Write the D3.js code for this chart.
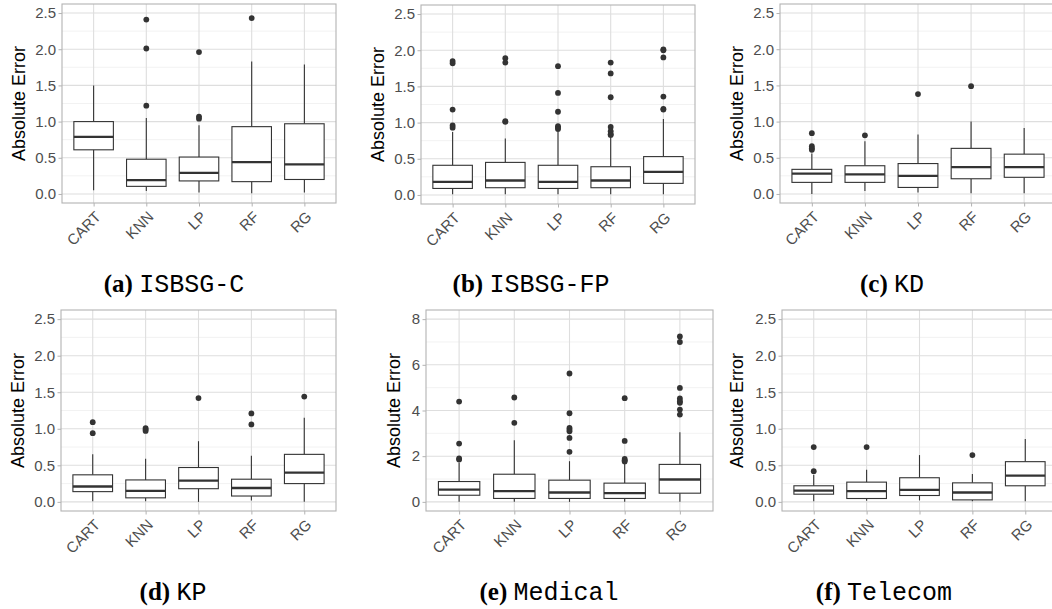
<!DOCTYPE html>
<html><head><meta charset="utf-8">
<script src="https://cdn.jsdelivr.net/npm/d3@7"></script>
<style>
body{margin:0;background:#fff;}
svg{display:block;}
</style></head>
<body><svg id="chart" width="1052" height="609"></svg>
<script>
// ---------- DATA ----------
const categories = ["CART","KNN","LP","RF","RG"];
const ticks25 = [0, 0.5, 1.0, 1.5, 2.0, 2.5];
const ticks8 = [0, 2, 4, 6, 8];

// five-number summaries per method: [lowerWhisker, q1, median, q3, upperWhisker]
const isbsgC_stats = [[0.05,0.61,0.79,1.00,1.50],[0.04,0.105,0.19,0.48,1.05],[0.02,0.18,0.29,0.51,0.95],[0.01,0.17,0.44,0.93,1.83],[0.02,0.20,0.41,0.97,1.79]];
const isbsgC_outliers = [[],[2.41,2.01,1.22],[1.96,1.07,1.04],[2.43],[]];

const isbsgFP_stats = [[0.01,0.09,0.18,0.41,0.87],[0.01,0.10,0.20,0.45,0.78],[0.01,0.09,0.18,0.41,0.87],[0.01,0.10,0.20,0.39,0.80],[0.01,0.16,0.32,0.53,1.05]];
const isbsgFP_outliers = [[1.85,1.82,1.18,0.96,0.93],[1.89,1.83,1.02,1.01],[1.78,1.41,1.15,0.95,0.93,0.91],[1.83,1.68,1.35,0.94,0.88,0.84,0.83],[2.01,2.00,1.90,1.36,1.19,1.18]];

const kd_stats = [[0.00,0.16,0.28,0.34,0.56],[0.04,0.16,0.27,0.39,0.73],[0.02,0.09,0.25,0.42,0.82],[0.01,0.21,0.37,0.63,1.00],[0.01,0.23,0.37,0.55,0.91]];
const kd_outliers = [[0.84,0.66,0.63,0.61],[0.81],[1.38],[1.49],[]];

const kp_stats = [[0.01,0.14,0.21,0.37,0.65],[0.01,0.055,0.15,0.30,0.59],[0.00,0.18,0.29,0.47,0.83],[0.02,0.08,0.19,0.31,0.63],[0.00,0.25,0.40,0.65,1.15]];
const kp_outliers = [[1.09,0.94],[1.01,0.99,0.97],[1.42],[1.21,1.06],[1.44]];

const medical_stats = [[0.00,0.29,0.54,0.89,1.71],[0.00,0.15,0.47,1.21,2.70],[0.00,0.15,0.41,0.95,1.78],[0.00,0.15,0.38,0.82,1.66],[0.00,0.38,0.98,1.64,3.05]];
const medical_outliers = [[4.39,2.55,1.90,1.85],[4.57,3.46],[5.62,3.88,3.24,3.17,3.09,2.80,2.19],[4.54,2.67,1.88,1.82,1.77],[7.24,7.00,4.99,4.53,4.41,4.34,4.04,3.82]];

const telecom_stats = [[0.01,0.105,0.155,0.22,0.37],[0.014,0.046,0.146,0.27,0.44],[0.02,0.087,0.164,0.33,0.64],[0.01,0.027,0.128,0.26,0.38],[0.01,0.22,0.36,0.55,0.86]];
const telecom_outliers = [[0.75,0.42],[0.75],[],[0.64],[]];

const captionLetters = ["(a)","(b)","(c)","(d)","(e)","(f)"];
const captionNames = ["ISBSG-C","ISBSG-FP","KD","KP","Medical","Telecom"];

// ---------- LAYOUT ----------
const panels = [
  {stats:isbsgC_stats, out:isbsgC_outliers, ticks:ticks25, max:2.5, fmt:d3.format(".1f"), l:62, t:4, r:336, b:203, titleX:19, capX:174, capY:292},
  {stats:isbsgFP_stats, out:isbsgFP_outliers, ticks:ticks25, max:2.5, fmt:d3.format(".1f"), l:421, t:5, r:695, b:204, titleX:378, capX:531, capY:292},
  {stats:kd_stats, out:kd_outliers, ticks:ticks25, max:2.5, fmt:d3.format(".1f"), l:780, t:4, r:1056, b:203, titleX:737, capX:892, capY:292},
  {stats:kp_stats, out:kp_outliers, ticks:ticks25, max:2.5, fmt:d3.format(".1f"), l:61, t:310, r:336, b:511, titleX:18, capX:173, capY:600},
  {stats:medical_stats, out:medical_outliers, ticks:ticks8, max:8, fmt:d3.format("d"), l:426, t:310, r:713, b:511, titleX:394, capX:549, capY:600},
  {stats:telecom_stats, out:telecom_outliers, ticks:ticks25, max:2.5, fmt:d3.format(".1f"), l:782, t:310, r:1057, b:511, titleX:737, capX:884, capY:600}
];

const svg = d3.select("#chart");
const dark = "#333333";
const sans = "'Liberation Sans', Arial, Helvetica, sans-serif";

panels.forEach((p, pi) => {
  const ex = p.max * 0.05;
  const y = d3.scaleLinear().domain([-ex, p.max + ex]).range([p.b, p.t]);
  const x = d3.scalePoint().domain(categories).range([p.l, p.r]).padding(0.6);
  const step = x.step();
  const bw = step * 0.75;
  const g = svg.append("g");

  g.append("rect").attr("x", p.l).attr("y", p.t).attr("width", p.r - p.l).attr("height", p.b - p.t).attr("fill", "#fff");

  const minor = d3.pairs(p.ticks).map(d => (d[0] + d[1]) / 2);
  g.selectAll(".minor").data(minor).join("line")
    .attr("x1", p.l).attr("x2", p.r).attr("y1", d => y(d)).attr("y2", d => y(d))
    .attr("stroke", "#efefef").attr("stroke-width", 0.8);
  g.selectAll(".majorY").data(p.ticks).join("line")
    .attr("x1", p.l).attr("x2", p.r).attr("y1", d => y(d)).attr("y2", d => y(d))
    .attr("stroke", "#dedede").attr("stroke-width", 1.1);
  g.selectAll(".majorX").data(categories).join("line")
    .attr("x1", d => x(d)).attr("x2", d => x(d)).attr("y1", p.t).attr("y2", p.b)
    .attr("stroke", "#dedede").attr("stroke-width", 1.1);

  categories.forEach((c, i) => {
    const s = p.stats[i];
    const cx = x(c);
    g.append("line").attr("x1", cx).attr("x2", cx).attr("y1", y(s[4])).attr("y2", y(s[3])).attr("stroke", dark).attr("stroke-width", 1.1);
    g.append("line").attr("x1", cx).attr("x2", cx).attr("y1", y(s[1])).attr("y2", y(s[0])).attr("stroke", dark).attr("stroke-width", 1.1);
    g.append("rect").attr("x", cx - bw / 2).attr("y", y(s[3])).attr("width", bw).attr("height", y(s[1]) - y(s[3]))
      .attr("fill", "#fff").attr("stroke", dark).attr("stroke-width", 1.1);
    g.append("line").attr("x1", cx - bw / 2).attr("x2", cx + bw / 2).attr("y1", y(s[2])).attr("y2", y(s[2]))
      .attr("stroke", dark).attr("stroke-width", 2.3);
    g.selectAll(null).data(p.out[i]).join("circle")
      .attr("cx", cx).attr("cy", d => y(d)).attr("r", 2.9).attr("fill", dark);
  });

  g.append("rect").attr("x", p.l).attr("y", p.t).attr("width", p.r - p.l).attr("height", p.b - p.t)
    .attr("fill", "none").attr("stroke", "#b3b3b3").attr("stroke-width", 1.1);

  const ya = g.append("g").attr("transform", `translate(${p.l},0)`)
    .call(d3.axisLeft(y).tickValues(p.ticks).tickFormat(p.fmt).tickSize(3.5).tickPadding(2.5));
  ya.select(".domain").remove();
  ya.selectAll(".tick line").attr("stroke", "#b3b3b3");
  ya.selectAll(".tick text").attr("fill", "#4d4d4d").style("font-family", sans).style("font-size", "15px");

  const xa = g.append("g").attr("transform", `translate(0,${p.b})`)
    .call(d3.axisBottom(x).tickSize(3.5).tickPadding(2));
  xa.select(".domain").remove();
  xa.selectAll(".tick line").attr("stroke", "#b3b3b3");
  xa.selectAll(".tick text").attr("fill", "#4d4d4d")
    .style("font-family", sans).style("font-size", "15px")
    .attr("text-anchor", "end").attr("dy", "0.35em").attr("x", 4).attr("y", 11)
    .attr("transform", "rotate(-45 4 11)");

  g.append("text").attr("transform", `translate(${p.titleX},${(p.t + p.b) / 2}) rotate(-90)`)
    .attr("text-anchor", "middle").attr("dy", "0.35em")
    .style("font-family", sans).style("font-size", "18px").attr("fill", "#000")
    .text("Absolute Error");

  const cap = svg.append("text").attr("x", p.capX).attr("y", p.capY).attr("text-anchor", "middle").attr("fill", "#000");
  cap.append("tspan").style("font-family", "'Liberation Serif', 'Times New Roman', serif").style("font-weight", "bold").style("font-size", "25px").text(captionLetters[pi] + " ");
  cap.append("tspan").style("font-family", "'Liberation Mono', 'Courier New', monospace").style("font-size", "25px").text(captionNames[pi]);
});
</script></body></html>
